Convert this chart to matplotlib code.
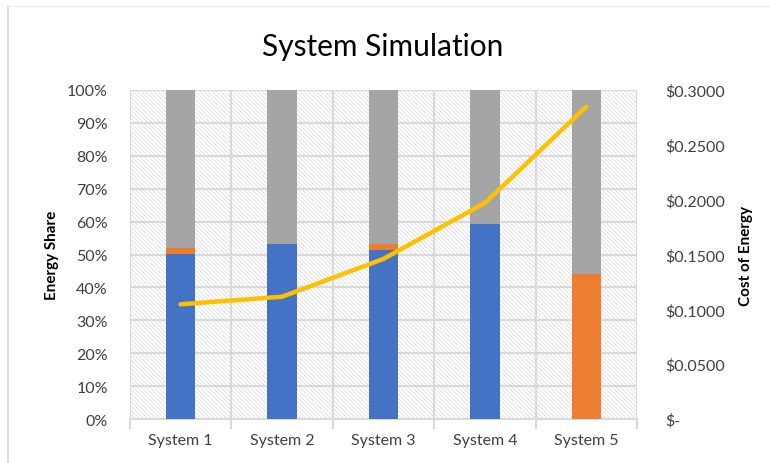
import matplotlib.pyplot as plt
from matplotlib.patches import Rectangle
from matplotlib.ticker import FuncFormatter, MultipleLocator
import numpy as np

systems = ["System 1", "System 2", "System 3", "System 4", "System 5"]
share_blue = [50.2, 53.3, 51.5, 59.3, 0.0]
share_orange = [1.8, 0.0, 1.8, 0.0, 44.1]
share_gray = [48.0, 46.7, 46.7, 40.7, 55.9]
cost = [0.1046, 0.1115, 0.146, 0.197, 0.2848]

plt.rcParams["font.family"] = ["Lato", "DejaVu Sans"]
plt.rcParams["hatch.linewidth"] = 0.6
grid_col = "#d9d9d9"
text_col = "#404040"

fig = plt.figure(figsize=(7.7, 4.64), dpi=100)
ax = fig.add_axes([0.1688, 0.0948, 0.6585, 0.7091])

x = np.arange(len(systems))
blue = np.array(share_blue) / 100
orange = np.array(share_orange) / 100
gray = np.array(share_gray) / 100

# hatched plot-area fill
ax.add_patch(Rectangle((0, 0), 1, 1, transform=ax.transAxes, facecolor="white",
                       edgecolor="#dedede", hatch="\\" * 8, linewidth=0, zorder=0))

w = 0.29
ax.bar(x, blue, width=w, color="#4472c4", zorder=3)
ax.bar(x, orange, width=w, bottom=blue, color="#ed7d31", zorder=3)
ax.bar(x, gray, width=w, bottom=blue + orange, color="#a5a5a5", zorder=3)

ax.set_xlim(-0.5, len(systems) - 0.5)
ax.set_ylim(0, 1)
ax.yaxis.set_major_locator(MultipleLocator(0.1))
ax.yaxis.set_major_formatter(FuncFormatter(lambda v, p: f"{v * 100:.0f}%"))
ax.set_xticks(x)
ax.set_xticklabels(systems)
ax.set_xticks(np.arange(-0.5, len(systems)), minor=True)
ax.tick_params(axis="x", which="major", length=0, pad=10, labelsize=11.5, labelcolor=text_col)
ax.tick_params(axis="x", which="minor", length=7, width=1.5, color=grid_col)
ax.tick_params(axis="y", length=0, pad=16, labelsize=11.5, labelcolor=text_col)
ax.grid(axis="y", which="major", color=grid_col, linewidth=1.5, zorder=1)
ax.grid(axis="x", which="minor", color=grid_col, linewidth=1.5, zorder=1)
ax.set_axisbelow(True)
for s in ["top", "left", "right"]:
    ax.spines[s].set_visible(False)
ax.spines["bottom"].set_color(grid_col)
ax.spines["bottom"].set_linewidth(1.5)
ax.set_ylabel("Energy Share", fontsize=11, fontweight="bold", labelpad=6)

ax2 = ax.twinx()
ax2.plot(x, cost, color="#ffc000", linewidth=3.2, solid_capstyle="round", zorder=4)
ax2.set_ylim(0, 0.3)
ax2.yaxis.set_major_locator(MultipleLocator(0.05))
ax2.yaxis.set_major_formatter(FuncFormatter(lambda v, p: "$-" if abs(v) < 1e-9 else f"${v:.4f}"))
ax2.tick_params(axis="y", length=0, pad=20, labelsize=11.5, labelcolor=text_col)
for s in ax2.spines.values():
    s.set_visible(False)
ax2.set_ylabel("Cost of Energy", fontsize=11, fontweight="bold", labelpad=10)

fig.text(0.497, 0.898, "System Simulation", ha="center", va="center", fontsize=21.5, color="black")

# partial chart border
fig.add_artist(plt.Line2D([0.011, 0.011], [0.0, 0.985], color="#d9d9d9", linewidth=1.2))
fig.add_artist(plt.Line2D([0.011, 1.0], [0.985, 0.985], color="#ececec", linewidth=1.0))

fig.savefig("out.png", dpi=100)
